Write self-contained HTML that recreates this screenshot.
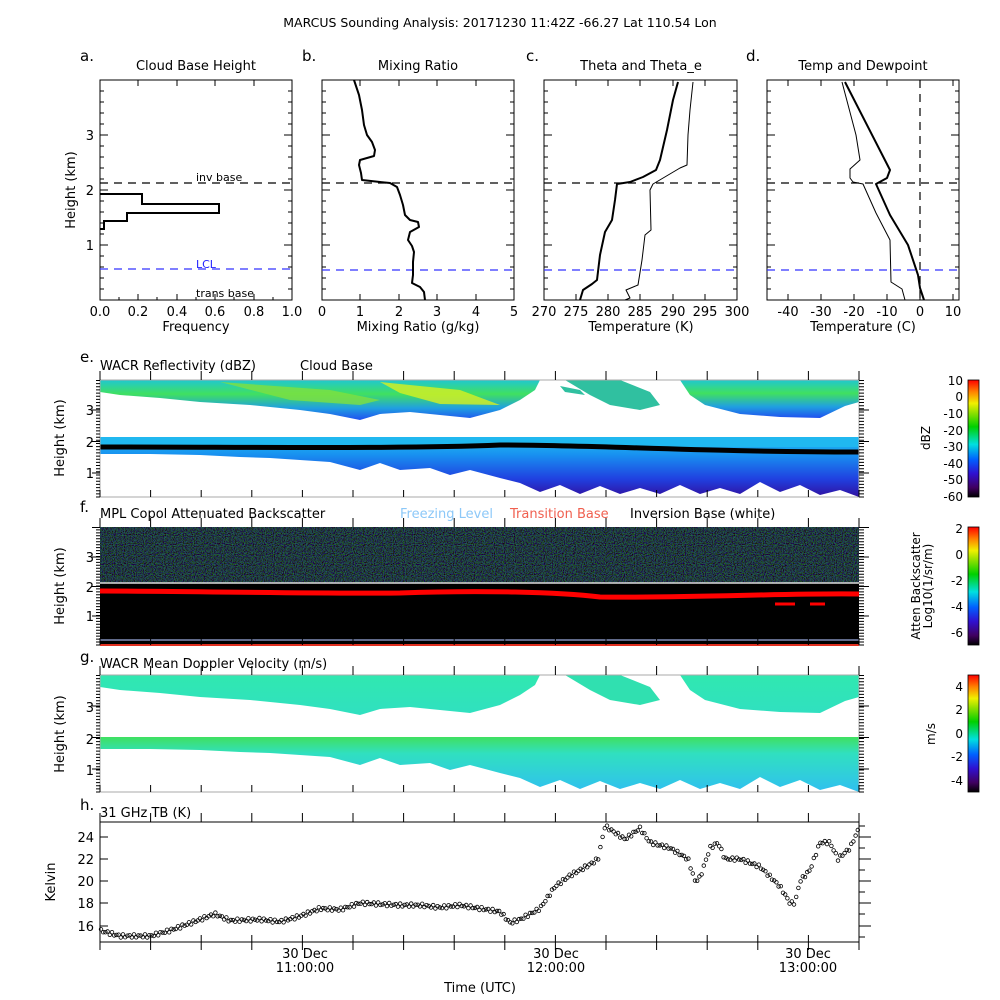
<!DOCTYPE html>
<html><head><meta charset="utf-8"><style>
body{margin:0;background:#fff}
svg{display:block;font-family:"DejaVu Sans","Liberation Sans",sans-serif}
</style></head><body>
<svg width="1000" height="1000" viewBox="0 0 1000 1000" xmlns="http://www.w3.org/2000/svg">
<defs>
<linearGradient id="jet" x1="0" y1="1" x2="0" y2="0">
<stop offset="0" stop-color="#000"/><stop offset="0.08" stop-color="#400060"/><stop offset="0.2" stop-color="#3010d0"/><stop offset="0.32" stop-color="#0060ff"/><stop offset="0.45" stop-color="#00e0e0"/><stop offset="0.6" stop-color="#00d000"/><stop offset="0.72" stop-color="#90e000"/><stop offset="0.8" stop-color="#f0f000"/><stop offset="0.9" stop-color="#ff8000"/><stop offset="1" stop-color="#ff0000"/>
</linearGradient>
<linearGradient id="topc" x1="0" y1="0" x2="0" y2="1">
<stop offset="0" stop-color="#20c8d0"/><stop offset="0.35" stop-color="#40e060"/><stop offset="0.7" stop-color="#20a0e0"/><stop offset="1" stop-color="#2050f0"/>
</linearGradient>
<linearGradient id="lowc" x1="0" y1="0" x2="0" y2="1">
<stop offset="0" stop-color="#20c0f0"/><stop offset="0.3" stop-color="#1890f0"/><stop offset="0.7" stop-color="#2040e0"/><stop offset="1" stop-color="#3010a0"/>
</linearGradient>
<linearGradient id="vtop" x1="0" y1="0" x2="0" y2="1"><stop offset="0" stop-color="#30e8b0"/><stop offset="1" stop-color="#30e0c0"/></linearGradient>
<linearGradient id="vlow" x1="0" y1="0" x2="0" y2="1"><stop offset="0" stop-color="#40e060"/><stop offset="0.3" stop-color="#30e0c0"/><stop offset="1" stop-color="#30c0f0"/></linearGradient>
<filter id="noise" x="0" y="0" width="100%" height="100%">
<feTurbulence type="fractalNoise" baseFrequency="0.9" numOctaves="1" seed="3"/>
<feColorMatrix type="matrix" values="0 0 0 0 0.05  0 1.6 0 0 -0.6  0 0 1.6 0 -0.55  0 0 0 0 1"/>
</filter>
</defs>

<text x="500" y="27" font-size="12.5" text-anchor="middle">MARCUS Sounding Analysis: 20171230 11:42Z   -66.27 Lat  110.54 Lon</text>

<g font-size="13">
<text x="80" y="61" font-size="15">a.</text>
<text x="196" y="70" text-anchor="middle">Cloud Base Height</text>
<text x="302" y="61" font-size="15">b.</text>
<text x="418" y="70" text-anchor="middle">Mixing Ratio</text>
<text x="526" y="61" font-size="15">c.</text>
<text x="641" y="70" text-anchor="middle">Theta and Theta_e</text>
<text x="746" y="61" font-size="15">d.</text>
<text x="863" y="70" text-anchor="middle">Temp and Dewpoint</text>
</g>
<g fill="none" stroke="#000" stroke-width="1">
<rect x="100" y="80" width="192" height="220"/>
<rect x="322" y="80" width="192" height="220"/>
<rect x="544" y="80" width="193" height="220"/>
<rect x="767" y="80" width="192" height="220"/>
</g>
<g stroke="#000" stroke-width="1">
<path d="M100,135h8M100,190h8M100,245h8M292,135h-8M292,190h-8M292,245h-8M322,135h8M322,190h8M322,245h8M514,135h-8M514,190h-8M514,245h-8M544,135h8M544,190h8M544,245h8M737,135h-8M737,190h-8M737,245h-8M767,135h8M767,190h8M767,245h8M959,135h-8M959,190h-8M959,245h-8"/>
<path d="M100,91h4M100,102h4M100,113h4M100,124h4M100,146h4M100,157h4M100,168h4M100,179h4M100,201h4M100,212h4M100,223h4M100,234h4M100,256h4M100,267h4M100,278h4M100,289h4" />
<path d="M288,91h4M288,102h4M288,113h4M288,124h4M288,146h4M288,157h4M288,168h4M288,179h4M288,201h4M288,212h4M288,223h4M288,234h4M288,256h4M288,267h4M288,278h4M288,289h4"/>
<path d="M322,91h4M322,102h4M322,113h4M322,124h4M322,146h4M322,157h4M322,168h4M322,179h4M322,201h4M322,212h4M322,223h4M322,234h4M322,256h4M322,267h4M322,278h4M322,289h4M510,91h4M510,102h4M510,113h4M510,124h4M510,146h4M510,157h4M510,168h4M510,179h4M510,201h4M510,212h4M510,223h4M510,234h4M510,256h4M510,267h4M510,278h4M510,289h4"/>
<path d="M544,91h4M544,102h4M544,113h4M544,124h4M544,146h4M544,157h4M544,168h4M544,179h4M544,201h4M544,212h4M544,223h4M544,234h4M544,256h4M544,267h4M544,278h4M544,289h4M733,91h4M733,102h4M733,113h4M733,124h4M733,146h4M733,157h4M733,168h4M733,179h4M733,201h4M733,212h4M733,223h4M733,234h4M733,256h4M733,267h4M733,278h4M733,289h4"/>
<path d="M767,91h4M767,102h4M767,113h4M767,124h4M767,146h4M767,157h4M767,168h4M767,179h4M767,201h4M767,212h4M767,223h4M767,234h4M767,256h4M767,267h4M767,278h4M767,289h4M955,91h4M955,102h4M955,113h4M955,124h4M955,146h4M955,157h4M955,168h4M955,179h4M955,201h4M955,212h4M955,223h4M955,234h4M955,256h4M955,267h4M955,278h4M955,289h4"/>
<path d="M138,300v-6M177,300v-6M215,300v-6M254,300v-6M138,80v6M177,80v6M215,80v6M254,80v6M119,300v-3M157,300v-3M196,300v-3M234,300v-3M273,300v-3"/>
<path d="M360,300v-6M399,300v-6M437,300v-6M476,300v-6M360,80v6M399,80v6M437,80v6M476,80v6"/>
<path d="M576,300v-6M608,300v-6M640,300v-6M673,300v-6M705,300v-6M576,80v6M608,80v6M640,80v6M673,80v6M705,80v6"/>
<path d="M788,300v-6M821,300v-6M854,300v-6M887,300v-6M920,300v-6M953,300v-6M788,80v6M821,80v6M854,80v6M887,80v6M920,80v6M953,80v6"/>
</g>
<g font-size="13" text-anchor="end">
<text x="94" y="140">3</text><text x="94" y="195">2</text><text x="94" y="250">1</text>
</g>
<text transform="translate(75,190) rotate(-90)" font-size="13" text-anchor="middle">Height (km)</text>
<g font-size="13" text-anchor="middle">
<text x="100" y="316">0.0</text><text x="138" y="316">0.2</text><text x="177" y="316">0.4</text><text x="215" y="316">0.6</text><text x="254" y="316">0.8</text><text x="292" y="316">1.0</text>
<text x="196" y="331">Frequency</text>
<text x="322" y="316">0</text><text x="360" y="316">1</text><text x="399" y="316">2</text><text x="437" y="316">3</text><text x="476" y="316">4</text><text x="514" y="316">5</text>
<text x="418" y="331">Mixing Ratio (g/kg)</text>
<text x="544" y="316">270</text><text x="576" y="316">275</text><text x="608" y="316">280</text><text x="640" y="316">285</text><text x="673" y="316">290</text><text x="705" y="316">295</text><text x="737" y="316">300</text>
<text x="641" y="331">Temperature (K)</text>
<text x="788" y="316">-40</text><text x="821" y="316">-30</text><text x="854" y="316">-20</text><text x="887" y="316">-10</text><text x="920" y="316">0</text><text x="953" y="316">10</text>
<text x="863" y="331">Temperature (C)</text>
</g>
<g stroke-dasharray="8,6" stroke-width="1.2">
<path d="M100,183H292M322,183H514M544,183H737M767,183H959" stroke="#000"/>
<path d="M100,269H292M322,270H514M544,270H737M767,270H959" stroke="#33f"/>
<path d="M920,80V300" stroke="#000"/>
</g>
<g font-size="11">
<text x="196" y="181">inv base</text>
<text x="196" y="268" fill="#22f">LCL</text>
<text x="196" y="297">trans base</text>
</g>
<path d="M100,194H142V204H219V213H127V221H104V229H100" fill="none" stroke="#000" stroke-width="2"/>
<g fill="none" stroke="#000" stroke-linejoin="round">
<polyline stroke-width="2" points="354,80 359,95 362,110 364,125 367,135 372,142 375,150 374,156 360,160 359,165 361,173 362,180 380,182 390,183 397,187 400,195 403,205 405,215 410,220 418,222 419,227 410,232 408,240 412,246 414,252 413,262 413,275 412,283 420,287 424,292 425,300"/>
<polyline stroke-width="2" points="678,82 673,100 667,130 660,160 656,170 643,177 630,182 617,184 615,200 612,220 605,232 600,255 597,280 592,284 583,290 580,300"/>
<polyline stroke-width="1" points="693,82 690,110 688,135 687,165 680,168 653,184 650,190 651,230 645,235 642,260 638,285 626,290 630,298 625,300"/>
<polyline stroke-width="2" points="845,82 890,170 887,178 876,184 890,215 908,245 918,275 920,288 924,300"/>
<polyline stroke-width="1" points="842,82 856,135 860,160 850,169 850,178 853,182 863,184 876,213 890,240 891,282 902,289 905,300"/>
</g>

<!-- Panel e -->
<text x="80" y="362" font-size="15">e.</text>
<text x="100" y="370" font-size="13">WACR Reflectivity (dBZ)</text>
<text x="300" y="370" font-size="13">Cloud Base</text>
<rect x="100" y="380" width="759" height="117" fill="#fff"/>
<path d="M100,380H540L535,390L520,400L500,410L470,418L440,415L410,412L380,414L360,420L330,414L300,410L250,405L200,402L160,398L120,395L100,392Z" fill="url(#topc)"/>
<path d="M220,382L330,390L380,400L360,405L290,400Z" fill="#80e040" opacity="0.8"/>
<path d="M380,382L460,390L500,405L440,404L400,393Z" fill="#d8f020" opacity="0.8"/>
<path d="M565,380H620L650,392L660,405L640,410L610,405L590,395Z M560,386L580,390L585,395L565,392Z" fill="#30c0a0"/>
<path d="M680,380H859V402L845,406L820,418L780,417L740,414L705,405L690,395Z" fill="url(#topc)"/>
<path d="M100,437H859V497L840,490L820,495L800,485L780,492L760,482L740,494L720,488L700,494L680,485L660,494L640,488L620,494L600,486L580,494L560,485L540,492L520,483L500,478L470,470L450,475L430,468L400,470L380,463L360,470L330,462L300,460L270,458L240,457L200,455L150,454L100,454Z" fill="url(#lowc)"/>
<path d="M100,437H859V447H100Z" fill="#20b8f0"/>
<path d="M100,447C250,447 400,449 500,445C600,445 700,452 859,452" stroke="#000" stroke-width="5" fill="none"/>
<path d="M100,380H859V497H100Z" fill="none" stroke="#aaa"/>

<!-- Panel f -->
<text x="80" y="512" font-size="15">f.</text>
<text x="100" y="518" font-size="13">MPL Copol Attenuated Backscatter</text>
<text x="400" y="518" font-size="13" fill="#8cc8f8">Freezing Level</text>
<text x="510" y="518" font-size="13" fill="#f06050">Transition Base</text>
<text x="630" y="518" font-size="13">Inversion Base (white)</text>
<rect x="100" y="527" width="759" height="118" fill="#000"/>
<rect x="100" y="527" width="759" height="56" filter="url(#noise)" opacity="0.5"/>
<path d="M100,583H859" stroke="#ddd" stroke-width="1.5"/>
<path d="M100,591C200,591 300,594 400,593C480,590 560,592 600,597C700,598 780,593 859,594" stroke="#f00" stroke-width="5" fill="none"/>
<path d="M775,604h20M810,604h15" stroke="#f00" stroke-width="3"/>
<path d="M100,640H859" stroke="#9ad" stroke-width="1.2"/>
<path d="M100,645H859" stroke="#e03020" stroke-width="2"/>

<!-- Panel g -->
<text x="80" y="662" font-size="15">g.</text>
<text x="100" y="668" font-size="13">WACR Mean Doppler Velocity (m/s)</text>
<rect x="100" y="675" width="759" height="117" fill="#fff"/>
<path d="M100,675H540L535,685L520,695L500,705L470,713L440,710L410,707L380,709L360,715L330,709L300,705L250,700L200,697L160,693L120,690L100,687Z" fill="url(#vtop)"/>
<path d="M565,675H620L650,687L660,700L640,705L610,700L590,690Z" fill="#30e0b0"/>
<path d="M680,675H859V697L845,701L820,713L780,712L740,709L705,700L690,690Z" fill="url(#vtop)"/>
<path d="M100,737H859V792L840,785L820,790L800,780L780,787L760,777L740,789L720,783L700,789L680,780L660,789L640,783L620,789L600,781L580,789L560,780L540,787L520,778L500,773L470,765L450,770L430,763L400,765L380,758L360,765L330,757L300,755L270,753L240,752L200,750L150,749L100,749Z" fill="url(#vlow)"/>
<path d="M100,675H859V792H100Z" fill="none" stroke="#aaa"/>

<!-- Panel h -->
<text x="80" y="810" font-size="15">h.</text>
<text x="100" y="817" font-size="13">31 GHz TB (K)</text>
<rect x="100" y="822" width="759" height="120" fill="none" stroke="#000"/>
<g stroke="#000" stroke-width="1">
<path d="M100,837h8M100,859h8M100,881h8M100,903h8M100,926h8M859,837h12M859,859h12M859,881h12M859,903h12M859,926h12M859,826h6M859,848h6M859,870h6M859,892h6M859,914h6M859,937h6"/>
</g>
<g font-size="13" text-anchor="end">
<text x="94" y="842">24</text><text x="94" y="864">22</text><text x="94" y="886">20</text><text x="94" y="908">18</text><text x="94" y="931">16</text>
</g>
<text transform="translate(55,882) rotate(-90)" font-size="13" text-anchor="middle">Kelvin</text>
<g id="tb" fill="none" stroke="#000" stroke-width="0.8"></g>

<g id="tt" stroke="#000" stroke-width="1"></g>
<g font-size="13" text-anchor="middle">
<text x="305" y="958">30 Dec</text><text x="305" y="972">11:00:00</text>
<text x="556" y="958">30 Dec</text><text x="556" y="972">12:00:00</text>
<text x="808" y="958">30 Dec</text><text x="808" y="972">13:00:00</text>
<text x="480" y="992">Time (UTC)</text>
</g>
<g id="rt" stroke="#000" stroke-width="1"></g>
<g font-size="13" text-anchor="end">
<text x="94" y="415">3</text><text x="94" y="447">2</text><text x="94" y="478">1</text>
<text x="94" y="562">3</text><text x="94" y="592">2</text><text x="94" y="621">1</text>
<text x="94" y="712">3</text><text x="94" y="744">2</text><text x="94" y="775">1</text>
</g>
<g font-size="13" text-anchor="middle">
<text transform="translate(64,438) rotate(-90)">Height (km)</text>
<text transform="translate(64,586) rotate(-90)">Height (km)</text>
<text transform="translate(64,734) rotate(-90)">Height (km)</text>
</g>

<rect x="968" y="380" width="11" height="117" fill="url(#jet)" stroke="#000" stroke-width="0.8"/>
<rect x="968" y="527" width="11" height="118" fill="url(#jet)" stroke="#000" stroke-width="0.8"/>
<rect x="968" y="675" width="11" height="117" fill="url(#jet)" stroke="#000" stroke-width="0.8"/>
<g font-size="12" text-anchor="end">
<text x="963" y="385">10</text><text x="963" y="401">0</text><text x="963" y="418">-10</text><text x="963" y="435">-20</text><text x="963" y="451">-30</text><text x="963" y="468">-40</text><text x="963" y="484">-50</text><text x="963" y="501">-60</text>
<text x="963" y="533">2</text><text x="963" y="559">0</text><text x="963" y="585">-2</text><text x="963" y="611">-4</text><text x="963" y="637">-6</text>
<text x="963" y="691">4</text><text x="963" y="714">2</text><text x="963" y="738">0</text><text x="963" y="761">-2</text><text x="963" y="785">-4</text>
</g>
<g font-size="12" text-anchor="middle">
<text transform="translate(930,438) rotate(-90)">dBZ</text>
<text transform="translate(920,586) rotate(-90)">Atten Backscatter</text>
<text transform="translate(932,586) rotate(-90)">Log10(1/sr/m)</text>
<text transform="translate(935,734) rotate(-90)">m/s</text>
</g>
</svg>
<script>
var ns="http://www.w3.org/2000/svg";
var tt=document.getElementById("tt"),d="";
var panels=[[380,497],[527,645],[675,792],[822,942]];
for(var k=0;k<=15;k++){var x=(100+k*50.6).toFixed(1);
 panels.forEach(function(p){d+="M"+x+","+p[0]+"v-9M"+x+","+p[1]+"v-7";});
 d+="M"+x+",942v8";}
var pa=document.createElementNS(ns,"path");pa.setAttribute("d",d);tt.appendChild(pa);
var rt=document.getElementById("rt"),r="";
[[380,497,410,31.5],[527,645,557,29.5],[675,792,706,31.5]].forEach(function(p){
 for(var y=p[1];y>=p[0];y-=p[3]/10){r+="M859,"+y.toFixed(1)+"h5M100,"+y.toFixed(1)+"h-4";}
 for(var j=-1;j<3;j++){var yy=p[2]+j*p[3];if(yy>p[0]&&yy<p[1])r+="M859,"+yy+"h10M100,"+yy+"h-8";}
});
var pr=document.createElementNS(ns,"path");pr.setAttribute("d",r);rt.appendChild(pr);
var kp=[[100,15.5],[120,15],[150,15],[170,15.5],[200,16.5],[215,17],[230,16.4],[260,16.5],[280,16.3],[300,16.8],[320,17.5],[340,17.4],[360,18],[380,17.9],[400,17.8],[420,17.8],[440,17.6],[460,17.8],[480,17.5],[500,17.2],[510,16.2],[520,16.5],[540,17.5],[555,19.5],[570,20.5],[590,21.5],[598,22],[605,25],[615,24.4],[625,23.8],[640,24.8],[650,23.5],[670,23],[688,22],[695,20],[700,20.3],[710,23],[718,23.5],[725,22],[740,22],[760,21.3],[780,19.5],[790,18],[795,18],[800,20],[810,21],[820,23.5],[830,23.5],[838,22],[850,23],[860,25]];
var g=document.getElementById("tb");
for(var x=101;x<859;x+=2.2){var i=0;while(i<kp.length-2&&kp[i+1][0]<x)i++;
 var a=kp[i],b=kp[i+1],t=(x-a[0])/(b[0]-a[0]);var K=a[1]+t*(b[1]-a[1])+Math.sin(x*1.7)*0.15;
 var c=document.createElementNS(ns,"circle");c.setAttribute("cx",x.toFixed(1));c.setAttribute("cy",(837-(K-24)*11).toFixed(1));c.setAttribute("r","1.8");g.appendChild(c);}
</script>
</body></html>
